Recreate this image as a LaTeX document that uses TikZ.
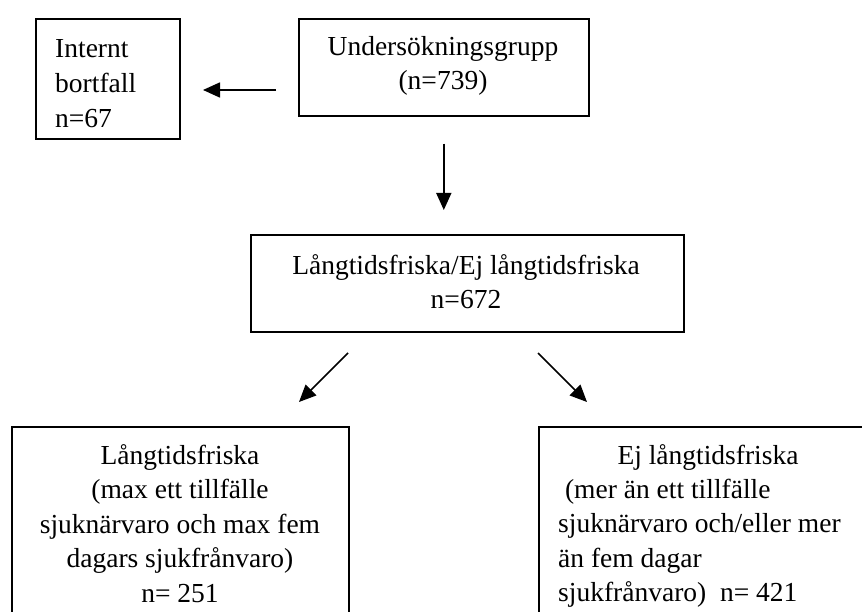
\documentclass[tikz,border=0pt]{standalone}
\usepackage{fontspec}
\setmainfont{Liberation Serif}
\usetikzlibrary{arrows.meta}
\begin{document}
\begin{tikzpicture}[x=1pt,y=-1pt,
  box/.style={draw, line width=1.6pt, rectangle, inner sep=0pt, anchor=north west},
  txt/.style={font=\fontsize{27.5}{34}\selectfont, inner sep=0pt},
  arr/.style={line width=1.6pt, -{Triangle[length=17pt,width=15pt]}}]
\useasboundingbox (0,0) rectangle (862,612);
\clip (0,0) rectangle (862,612);
% boxes
\node[box, minimum width=144pt, minimum height=120pt] (int) at (35,18) {};
\node[box, minimum width=290pt, minimum height=97pt] (und) at (298,18) {};
\node[box, minimum width=433pt, minimum height=97pt] (mid) at (250,234) {};
\node[box, minimum width=337pt, minimum height=260pt] (bl) at (11,426) {};
\node[box, minimum width=400pt, minimum height=260pt] (br) at (538,426) {};
% texts
\node[txt, font=\fontsize{27.5}{35}\selectfont, align=left, anchor=north west] (intT) at (55,39) {Internt\\bortfall\\n=67};
\node[txt, align=center, anchor=north] (undT) at (443,36) {Undersökningsgrupp\\(n=739)};
\node[txt, align=center, anchor=north] (midT) at (466,254) {Långtidsfriska/Ej långtidsfriska\\n=672};
\node[txt, font=\fontsize{27.5}{34.5}\selectfont, align=center, anchor=north] (blT) at (180,444) {Långtidsfriska\\(max ett tillfälle\\sjuknärvaro och max fem\\dagars sjukfrånvaro)\\n= 251};
\node[txt, anchor=north] (brT1) at (708,444) {Ej långtidsfriska};
\node[txt, font=\fontsize{27.5}{34.5}\selectfont, align=left, anchor=north west] (brT) at (558,478.5) {\ (mer än ett tillfälle\\sjuknärvaro och/eller mer\\än fem dagar\\sjukfrånvaro)\ \ n= 421};
% arrow ends
\coordinate (a1s) at (276,90);
\coordinate (a1e) at (203,90);
\coordinate (a3s) at (348,353);
\coordinate (a3e) at (299,402);
\coordinate (a4s) at (538,353);
\coordinate (a4e) at (587,402);
\draw[arr] (a1s) -- (a1e);
\draw[arr, shorten <=27pt, shorten >=24pt] (und.south) -- (mid.north -| und.south);
\draw[arr] (a3s) -- (a3e);
\draw[arr] (a4s) -- (a4e);
\end{tikzpicture}
\end{document}
